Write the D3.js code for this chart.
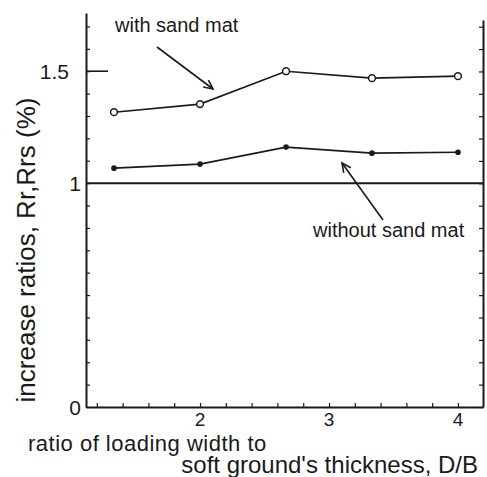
<!DOCTYPE html>
<html>
<head>
<meta charset="utf-8">
<script src="https://cdn.jsdelivr.net/npm/d3@7"></script>
<style>
  body { margin: 0; background: #fff; }
  svg { display: block; }
</style>
</head>
<body>
<div id="chart"></div>
<script>
// D/B values and increase ratios
const ratioDB = [1.333, 2, 2.667, 3.333, 4];
const withSandMat = [1.317, 1.353, 1.5, 1.469, 1.478];
const withoutSandMat = [1.067, 1.085, 1.161, 1.134, 1.138];

const xTickLabels = [2, 3, 4];
const yTickLabels = [0, 1, 1.5];

const width = 487, height = 477;
const ink = "#1a1a1a";
const font = "'Liberation Sans', Arial, Helvetica, sans-serif";

const x = d3.scaleLinear().domain([1.116, 4.194]).range([86, 483]);
const y = d3.scaleLinear().domain([0, 1.76]).range([407, 13]);

const svg = d3.select("#chart").append("svg")
    .attr("width", width)
    .attr("height", height)
    .attr("font-family", font)
    .style("background-color", "#fff");

// minor ticks every 0.1 (y) and 0.2 (x)
const yMinor = d3.range(0, 1.71, 0.1);
const xMinor = d3.range(1.2, 4.19, 0.2);

// left axis
const left = svg.append("g")
    .attr("transform", `translate(${x.range()[0]},0)`)
    .call(d3.axisLeft(y).tickValues(yMinor).tickSize(-4).tickSizeOuter(0).tickFormat(""));
left.select(".domain").attr("stroke", ink).attr("stroke-width", 2);
left.selectAll(".tick line").attr("stroke", ink).attr("stroke-width", 1.2);

// longer tick at 1.5
svg.append("line")
    .attr("x1", x.range()[0]).attr("x2", x.range()[0] + 22)
    .attr("y1", y(1.5)).attr("y2", y(1.5))
    .attr("stroke", ink).attr("stroke-width", 1.6);

// y tick labels
svg.append("g").selectAll("text")
    .data(yTickLabels)
    .join("text")
    .attr("x", d => d == 1.5 ? 69 : 81)
    .attr("y", d => y(d))
    .attr("dy", "0.36em")
    .attr("text-anchor", "end")
    .attr("font-size", 21)
    .attr("fill", ink)
    .text(d => d);

// right axis (ticks point inward)
const right = svg.append("g")
    .attr("transform", `translate(${x.range()[1]},0)`)
    .call(d3.axisRight(y.copy().domain([0, 1.73]).range([407, 20])).tickValues(yMinor).tickSize(-4).tickSizeOuter(0).tickFormat(""));
right.select(".domain").attr("stroke", ink).attr("stroke-width", 2);
right.selectAll(".tick line").attr("stroke", ink).attr("stroke-width", 1.2);

// bottom axis
const bottom = svg.append("g")
    .attr("transform", `translate(0,${y(0)})`)
    .call(d3.axisBottom(x).tickValues(xMinor).tickSize(-4).tickSizeOuter(0).tickFormat(""));
bottom.select(".domain").attr("stroke", ink).attr("stroke-width", 2);
bottom.selectAll(".tick line").attr("stroke", ink).attr("stroke-width", 1.2);

svg.append("g").selectAll("text")
    .data(xTickLabels)
    .join("text")
    .attr("x", d => x(d))
    .attr("y", 426)
    .attr("text-anchor", "middle")
    .attr("font-size", 19)
    .attr("fill", ink)
    .text(d => d);

// reference line at ratio 1
svg.append("line")
    .attr("x1", x.range()[0]).attr("x2", x.range()[1])
    .attr("y1", y(1)).attr("y2", y(1))
    .attr("stroke", ink).attr("stroke-width", 2);

// series
const line = d3.line().x((d, i) => x(ratioDB[i])).y(d => y(d));

svg.append("path")
    .datum(withSandMat)
    .attr("d", line)
    .attr("fill", "none")
    .attr("stroke", ink)
    .attr("stroke-width", 1.6);

svg.append("path")
    .datum(withoutSandMat)
    .attr("d", line)
    .attr("fill", "none")
    .attr("stroke", ink)
    .attr("stroke-width", 1.6);

svg.append("g").selectAll("circle")
    .data(withSandMat)
    .join("circle")
    .attr("cx", (d, i) => x(ratioDB[i]))
    .attr("cy", d => y(d))
    .attr("r", 3.4)
    .attr("fill", "#fff")
    .attr("stroke", ink)
    .attr("stroke-width", 1.5);

svg.append("g").selectAll("circle")
    .data(withoutSandMat)
    .join("circle")
    .attr("cx", (d, i) => x(ratioDB[i]))
    .attr("cy", d => y(d))
    .attr("r", 2.8)
    .attr("fill", ink);

// annotations with arrows
function arrow(x1, y1, x2, y2) {
  const a = Math.atan2(y2 - y1, x2 - x1), len = 10, spread = 0.45;
  svg.append("line")
      .attr("x1", x1).attr("y1", y1).attr("x2", x2).attr("y2", y2)
      .attr("stroke", ink).attr("stroke-width", 1.6);
  svg.append("path")
      .attr("d", `M${x2 - len * Math.cos(a - spread)},${y2 - len * Math.sin(a - spread)}L${x2},${y2}L${x2 - len * Math.cos(a + spread)},${y2 - len * Math.sin(a + spread)}`)
      .attr("fill", "none").attr("stroke", ink).attr("stroke-width", 1.6);
}

svg.append("text")
    .attr("x", 115).attr("y", 32)
    .attr("font-size", 20)
    .attr("fill", ink)
    .text("with sand mat");
arrow(157, 47, 213, 89);

svg.append("text")
    .attr("x", 313).attr("y", 237)
    .attr("font-size", 20)
    .attr("fill", ink)
    .text("without sand mat");
arrow(383, 220, 342, 163);

// axis titles
svg.append("text")
    .attr("transform", "translate(35,250) rotate(-90)")
    .attr("text-anchor", "middle")
    .attr("font-size", 26)
    .attr("fill", ink)
    .text("increase ratios, Rr,Rrs (%)");

svg.append("text")
    .attr("x", 28).attr("y", 451)
    .attr("font-size", 22)
    .attr("letter-spacing", 0.5)
    .attr("fill", ink)
    .text("ratio of loading width to");

svg.append("text")
    .attr("x", 478).attr("y", 473)
    .attr("text-anchor", "end")
    .attr("font-size", 24)
    .attr("fill", ink)
    .text("soft ground's thickness, D/B");
</script>
</body>
</html>
